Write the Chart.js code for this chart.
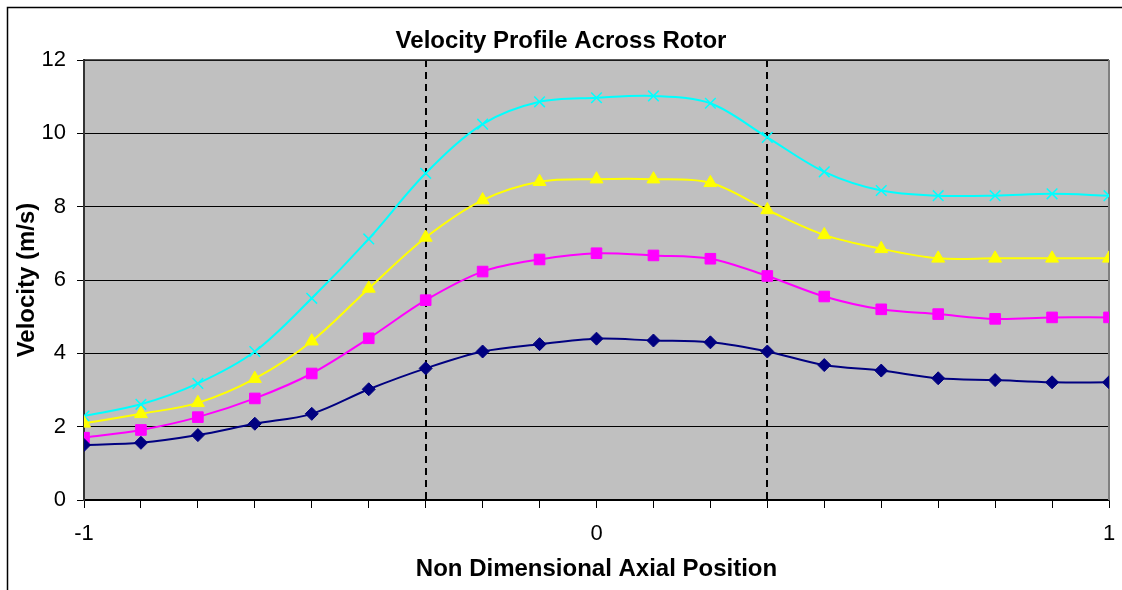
<!DOCTYPE html>
<html>
<head>
<meta charset="utf-8">
<title>Velocity Profile Across Rotor</title>
<script src="https://cdn.jsdelivr.net/npm/chart.js@4"></script>
<style>
  html, body { margin: 0; padding: 0; background: #fff; }
  #wrap { width: 1122px; height: 590px; }
</style>
</head>
<body>
<div id="wrap"><canvas id="chart"></canvas></div>
<script>
// axial stations along the rotor (non dimensional)
const positions = [-1, -0.8889, -0.7778, -0.6667, -0.5556, -0.4444, -0.3333, -0.2222, -0.1111, 0,
  0.1111, 0.2222, 0.3333, 0.4444, 0.5556, 0.6667, 0.7778, 0.8889, 1];
const xLabels = [-1, 0, 1];
const rotorEdges = [-0.3333, 0.3333];

// velocity profiles, m/s
const profile1 = [1.50, 1.56, 1.77, 2.08, 2.35, 3.02, 3.59, 4.05, 4.25, 4.40, 4.35, 4.30, 4.05, 3.68, 3.53, 3.32, 3.27, 3.21, 3.21];
const profile2 = [1.70, 1.91, 2.26, 2.77, 3.45, 4.41, 5.45, 6.23, 6.56, 6.73, 6.67, 6.58, 6.11, 5.55, 5.20, 5.07, 4.94, 4.98, 4.98];
const profile3 = [2.09, 2.35, 2.65, 3.31, 4.33, 5.77, 7.16, 8.18, 8.68, 8.75, 8.75, 8.65, 7.91, 7.23, 6.85, 6.59, 6.59, 6.59, 6.59];
const profile4 = [2.29, 2.61, 3.18, 4.05, 5.50, 7.12, 8.91, 10.25, 10.86, 10.97, 11.02, 10.82, 9.89, 8.95, 8.44, 8.30, 8.30, 8.35, 8.30];

const FONT = "'Liberation Sans', Arial, sans-serif";
Chart.defaults.font.family = FONT;
Chart.defaults.color = "#000";

function series(values, color, style, radius) {
  return {
    data: positions.map((x, i) => ({ x: x, y: values[i] })),
    borderColor: color,
    backgroundColor: color,
    borderWidth: 2,
    tension: 0.33,
    pointStyle: style,
    pointRadius: radius,
    pointBackgroundColor: color,
    pointBorderColor: color,
    pointBorderWidth: style === "crossRot" ? 1.5 : 1,
  };
}

// grey plot background, outer frame and the dashed rotor limits
const decorations = {
  id: "decorations",
  beforeDraw(chart) {
    const { ctx, chartArea: a } = chart;
    ctx.save();
    ctx.fillStyle = "#fff";
    ctx.fillRect(0, 0, chart.width, chart.height);
    ctx.fillStyle = "#c0c0c0";
    ctx.fillRect(a.left, a.top, a.right - a.left, a.bottom - a.top);
    ctx.strokeStyle = "#000";
    ctx.lineWidth = 1.5;
    ctx.strokeRect(7.5, 7.5, chart.width + 50, chart.height + 50);
    ctx.restore();
  },
  beforeDatasetsDraw(chart) {
    const { ctx, chartArea: a, scales } = chart;
    ctx.save();
    ctx.strokeStyle = "#000";
    ctx.lineWidth = 2;
    ctx.setLineDash([7, 5]);
    rotorEdges.forEach((v) => {
      const px = Math.round(scales.x.getPixelForValue(v));
      ctx.beginPath();
      ctx.moveTo(px, a.top);
      ctx.lineTo(px, a.bottom);
      ctx.stroke();
    });
    ctx.setLineDash([]);
    ctx.lineWidth = 1.5;
    ctx.strokeStyle = "#222";
    ctx.beginPath();
    ctx.moveTo(a.left, a.top);
    ctx.lineTo(a.right, a.top);
    ctx.stroke();
    ctx.strokeStyle = "#808080";
    ctx.lineWidth = 2;
    ctx.beginPath();
    ctx.moveTo(a.right, a.top);
    ctx.lineTo(a.right, a.bottom);
    ctx.stroke();
    ctx.restore();
  },
};

new Chart(document.getElementById("chart"), {
  type: "line",
  data: {
    datasets: [
      series(profile1, "#000080", "rectRot", 6.5),
      series(profile2, "#ff00ff", "rect", 7.5),
      series(profile3, "#ffff00", "triangle", 7.5),
      series(profile4, "#00ffff", "crossRot", 7.5),
    ],
  },
  options: {
    responsive: true,
    maintainAspectRatio: false,
    animation: false,
    layout: { padding: 0 },
    plugins: {
      legend: { display: false },
      tooltip: { enabled: false },
      title: {
        display: true,
        text: "Velocity Profile Across Rotor",
        font: { size: 24, weight: "bold" },
        padding: { top: 26.6, bottom: 4.6 },
      },
    },
    scales: {
      x: {
        type: "linear",
        min: -1,
        max: 1,
        afterBuildTicks: (s) => { s.ticks = positions.map((v) => ({ value: v })); },
        afterFit: (s) => {
          s.height = 90;
          s.paddingLeft = 0;
          s.paddingRight = 13;
        },
        ticks: {
          autoSkip: false,
          maxRotation: 0,
          padding: 13,
          font: { size: 22 },
          callback: (v) => (xLabels.includes(v) ? String(v) : ""),
        },
        grid: { drawOnChartArea: false, tickLength: 8, color: "#000" },
        border: { color: "#000", width: 1.5 },
        title: {
          display: true,
          text: "Non Dimensional Axial Position",
          font: { size: 24, weight: "bold" },
          padding: { top: 0, bottom: 6.6 },
        },
      },
      y: {
        min: 0,
        max: 12,
        afterFit: (s) => { s.width = 84; },
        ticks: { stepSize: 2, padding: 11, font: { size: 22 } },
        grid: { color: "#000", tickLength: 7 },
        border: { color: "#333", width: 2 },
        title: {
          display: true,
          text: "Velocity (m/s)",
          font: { size: 24, weight: "bold" },
          padding: { top: 13, bottom: 0 },
        },
      },
    },
  },
  plugins: [decorations],
});
</script>
</body>
</html>
